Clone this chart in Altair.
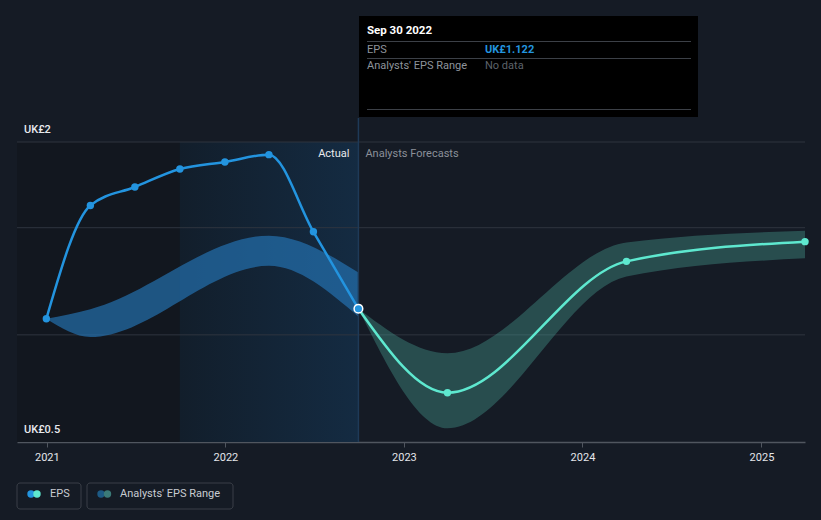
import altair as alt
import pandas as pd

actual_dates = ["2020-12-31", "2021-03-31", "2021-06-30", "2021-09-30",
                "2021-12-31", "2022-03-31", "2022-06-30", "2022-09-30"]
actual_eps = [1.075, 1.604, 1.690, 1.774, 1.807, 1.841, 1.481, 1.122]

past_band_dates = ["2020-12-31", "2021-03-31", "2022-03-31", "2022-09-30"]
past_low = [1.075, 0.990, 1.322, 1.085]
past_high = [1.075, 1.120, 1.463, 1.291]

forecast_dates = ["2022-09-30", "2023-03-31", "2024-03-31", "2025-03-31"]
forecast_eps = [1.122, 0.730, 1.343, 1.435]
forecast_low = [1.122, 0.564, 1.272, 1.357]
forecast_high = [1.122, 0.914, 1.431, 1.486]

year_ticks = [2021, 2022, 2023, 2024, 2025]
grid_values = [1.0, 1.5, 1.9]
y_label_values = [1.9, 0.5]
y_label_texts = ["UK£2", "UK£0.5"]
x_domain = ["2020-11-01", "2025-03-31"]
y_domain = [0.5, 1.9]
dark_region = ["2020-11-01", "2021-09-30"]
actual_region = ["2021-09-30", "2022-09-30"]
cursor_date = "2022-09-30"
tooltip_title = "Sep 30 2022"
tooltip_eps = "UK£1.122"

FONT = "Roboto"
BG = "#151b25"
BLUE = "#2394df"
TEAL = "#5ee8cf"

actual = pd.DataFrame({"date": actual_dates, "eps": actual_eps})
past = pd.DataFrame({"date": past_band_dates, "low": past_low, "high": past_high})
forecast = pd.DataFrame({"date": forecast_dates, "eps": forecast_eps,
                         "low": forecast_low, "high": forecast_high})
grid = pd.DataFrame({"v": grid_values})
ylab = pd.DataFrame({"v": y_label_values, "t": y_label_texts})
dark_df = pd.DataFrame({"start": [dark_region[0]], "end": [dark_region[1]],
                        "top": [y_domain[1]], "bottom": [y_domain[0]]})
act_df = pd.DataFrame({"start": [actual_region[0]], "end": [actual_region[1]],
                       "top": [y_domain[1]], "bottom": [y_domain[0]]})
cur_df = pd.DataFrame({"date": [cursor_date]})

xscale = alt.Scale(domain=x_domain)
yscale = alt.Scale(domain=y_domain)
XAX = alt.Axis(values=[alt.DateTime(year=y, month=1, date=1) for y in year_ticks],
               format="%Y", labelFont=FONT, labelFontSize=11, labelColor="#e4e6ea",
               domainColor="#50565f", domainWidth=1.5, tickColor="#50565f",
               tickSize=5, labelPadding=4, grid=False, title=None)


def X(field):
    return alt.X(field, type="temporal", scale=xscale, axis=XAX, title=None)


def Y(field):
    return alt.Y(field, type="quantitative", scale=yscale, axis=None, title=None)


dark_rect = alt.Chart(dark_df).mark_rect(fill="#12171f").encode(
    x=X("start"), x2="end", y=Y("top"), y2="bottom")
act_rect = alt.Chart(act_df).mark_rect(
    fill=alt.Gradient(gradient="linear",
                      stops=[alt.GradientStop(color="#121e2b", offset=0),
                             alt.GradientStop(color="#142b42", offset=1)],
                      x1=0, x2=1, y1=0, y2=0)
).encode(x=X("start"), x2="end", y=Y("top"), y2="bottom")

grid_rules = alt.Chart(grid).mark_rule(color="#2f353f", strokeWidth=1).encode(y=Y("v"))
past_band = alt.Chart(past).mark_area(interpolate="monotone", color="#2576b8",
                                      opacity=0.65).encode(
    x=X("date"), y=Y("low"), y2="high")
fc_band = alt.Chart(forecast).mark_area(interpolate="monotone", color="#4fb3a5",
                                        opacity=0.33).encode(
    x=X("date"), y=Y("low"), y2="high")
cursor = alt.Chart(cur_df).mark_rule(color="#1e3a58", strokeWidth=1.5).encode(
    x=X("date"), y=alt.value(-24), y2=alt.value(300))
act_line = alt.Chart(actual).mark_line(interpolate="monotone", color=BLUE,
                                       strokeWidth=2.5).encode(x=X("date"), y=Y("eps"))
fc_line = alt.Chart(forecast).mark_line(interpolate="monotone", color=TEAL,
                                        strokeWidth=2.5).encode(x=X("date"), y=Y("eps"))
act_pts = alt.Chart(actual.iloc[:-1]).mark_point(filled=True, color=BLUE, size=55,
                                                  opacity=1).encode(x=X("date"), y=Y("eps"))
fc_pts = alt.Chart(forecast.iloc[1:]).mark_point(filled=True, color=TEAL, size=55,
                                                  opacity=1).encode(x=X("date"), y=Y("eps"))
last_pt = alt.Chart(actual.iloc[-1:]).mark_point(filled=True, fill=BLUE, stroke="#ffffff",
                                                  strokeWidth=1.5, size=75, opacity=1).encode(
    x=X("date"), y=Y("eps"))

actual_lbl = alt.Chart(cur_df).mark_text(text="Actual", align="right", baseline="middle",
                                         dx=-9, font=FONT, fontSize=11, color="#e8eaee").encode(
    x=X("date"), y=alt.value(12))
fc_lbl = alt.Chart(cur_df).mark_text(text="Analysts Forecasts", align="left", baseline="middle",
                                     dx=7, font=FONT, fontSize=11, color="#8b9099").encode(
    x=X("date"), y=alt.value(12))
y_lbls = alt.Chart(ylab).mark_text(align="left", baseline="middle", font=FONT, fontSize=11,
                                   fontWeight=500, color="#e8eaee", dy=-12).encode(
    x=alt.value(7), y=Y("v"), text="t:N")

# ---- tooltip box (anchored at the cursor date) ----
tip_box = alt.Chart(cur_df).mark_rect(fill="#000000").encode(
    x=alt.value(342), x2=alt.value(681), y=alt.value(-126), y2=alt.value(-25))
tip_lines = [alt.Chart(cur_df).mark_rule(color="#3c4047", strokeWidth=1).encode(
    x=alt.value(350), x2=alt.value(674), y=alt.value(v))
    for v in (-100.5, -83.5, -32.5)]


def tip_text(txt, x, y, color, weight="normal", size=11):
    return alt.Chart(cur_df).mark_text(text=txt, align="left", baseline="middle", font=FONT,
                                       fontSize=size, fontWeight=weight, color=color).encode(
        x=alt.value(x), y=alt.value(y))


tip_texts = [
    tip_text(tooltip_title, 350, -111, "#ffffff", "bold", 11.5),
    tip_text("EPS", 350, -92.5, "#8e949c"),
    tip_text(tooltip_eps, 468, -92.5, BLUE, "bold"),
    tip_text("Analysts' EPS Range", 350, -76, "#8e949c"),
    tip_text("No data", 468, -76, "#5d636b"),
]

# ---- legend ----
leg_boxes = [alt.Chart(cur_df).mark_rect(fill=BG, stroke="#3a3f48", strokeWidth=1,
                                         cornerRadius=3).encode(
    x=alt.value(a), x2=alt.value(b), y=alt.value(341), y2=alt.value(367))
    for a, b in ((0, 64), (70, 216))]


def dot(x, color):
    return alt.Chart(cur_df).mark_point(filled=True, color=color, size=55, opacity=1).encode(
        x=alt.value(x), y=alt.value(352))


leg_dots = [dot(14, BLUE), dot(20, TEAL), dot(84, "#1d5a85"), dot(90.5, "#3b7a78")]
leg_texts = [
    alt.Chart(cur_df).mark_text(text=t, align="left", baseline="middle", font=FONT,
                                fontSize=11, color="#c8ccd2").encode(
        x=alt.value(x), y=alt.value(352))
    for t, x in (("EPS", 33), ("Analysts' EPS Range", 103))
]

chart = alt.layer(
    dark_rect, act_rect, grid_rules, past_band, fc_band, cursor,
    act_line, fc_line, act_pts, fc_pts, last_pt, actual_lbl, fc_lbl, y_lbls,
    tip_box, *tip_lines, *tip_texts, *leg_boxes, *leg_dots, *leg_texts,
).properties(
    width=788, height=300,
    padding={"left": 17, "top": 142, "right": 16, "bottom": 78},
    autosize="none",
    background=BG,
).configure_view(stroke=None)

chart.save("out.html", embed_options={"renderer": "svg", "actions": False})
